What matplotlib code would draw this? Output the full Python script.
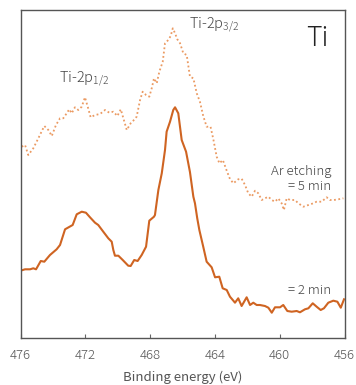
import numpy as np
import matplotlib
matplotlib.use("Agg")
import matplotlib.pyplot as plt

plt.rcParams['font.family'] = ['Noto Sans CJK JP', 'DejaVu Sans']
plt.rcParams['font.weight'] = 'light'
plt.rcParams['mathtext.fontset'] = 'custom'
plt.rcParams['mathtext.rm'] = 'Noto Sans CJK JP:light'

# Ar etching = 2 min (solid)
e_2min = [476.0, 475.72, 475.41, 475.21, 475.04, 474.75, 474.53, 474.18, 473.77, 473.56,
          473.25, 472.78, 472.53, 472.22, 471.96, 471.71, 471.40, 471.20, 470.89, 470.58,
          470.37, 470.27, 470.17, 469.96, 469.69, 469.35, 469.20, 468.98, 468.77, 468.52,
          468.25, 468.05, 467.76, 467.70, 467.49, 467.28, 467.08, 466.98, 466.77, 466.57,
          466.46, 466.26, 466.05, 465.78, 465.54, 465.33, 465.23, 465.09, 464.96, 464.72,
          464.51, 464.20, 463.99, 463.73, 463.52, 463.27, 463.07, 462.86, 462.76, 462.56,
          462.35, 462.04, 461.83, 461.63, 461.42, 461.22, 460.91, 460.70, 460.49, 460.29,
          459.98, 459.78, 459.53, 459.26, 458.95, 458.75, 458.44, 458.23, 457.96, 457.72,
          457.47, 457.27, 457.00, 456.69, 456.44, 456.23, 456.03]
i_2min = [67.3, 68.7, 68.7, 69.7, 68.7, 77, 76.3, 83, 88.7, 93,
          108.7, 113, 123.7, 126.3, 125.3, 120.7, 115.3, 113, 106.3, 99.7,
          96.3, 88, 82.3, 82.3, 78, 72.3, 72, 78, 77, 83,
          91.3, 117.3, 121.3, 123, 148, 164.7, 188, 206.3, 216.3, 228,
          230.7, 224.7, 198, 186.3, 166, 141.3, 134.7, 119.7, 108, 91.3,
          76.3, 70.7, 60.7, 61.3, 49.7, 48, 41.3, 37.3, 35.3, 39.7,
          32, 40.7, 33, 35.3, 33, 33, 32, 30.3, 25.3, 30.7,
          30.7, 33, 27, 26.3, 27, 25.7, 28.7, 29.7, 34.7, 31.3,
          28, 29.7, 35.3, 37.3, 36.3, 30.3, 38.7]

# Ar etching = 5 min (dotted)
e_5min = [475.93, 475.72, 475.52, 475.21, 474.90, 474.53, 474.28, 474.07, 473.81, 473.56,
          473.36, 473.15, 472.99, 472.84, 472.64, 472.43, 472.22, 472.02, 471.85, 471.67,
          471.40, 471.09, 470.78, 470.52, 470.27, 470.02, 469.81, 469.65, 469.44, 469.20,
          469.04, 468.83, 468.62, 468.46, 468.25, 468.05, 467.90, 467.76, 467.59, 467.43,
          467.22, 467.08, 466.88, 466.73, 466.60, 466.46, 466.32, 466.15, 465.95, 465.74,
          465.54, 465.33, 465.12, 464.92, 464.72, 464.51, 464.27, 464.10, 463.89, 463.72,
          463.51, 463.27, 463.07, 462.86, 462.56, 462.35, 462.14, 461.94, 461.73, 461.52,
          461.32, 461.11, 460.91, 460.70, 460.49, 460.29, 460.09, 459.88, 459.74, 459.57,
          459.36, 459.06, 458.85, 458.54, 458.23, 457.93, 457.72, 457.41, 457.10, 456.90,
          456.65, 456.38, 456.07]
i_5min = [191.3, 193, 183, 189.7, 199.7, 212, 208, 202, 213, 219.7,
          219.7, 224.7, 228.7, 224.7, 230.7, 228, 231.3, 240.7, 231.3, 220.7,
          223, 224, 228, 225.3, 226.3, 222, 228.7, 219.7, 208, 214.7,
          217.3, 221.3, 238, 246.3, 243, 241.3, 249.7, 259.7, 254.7, 266.3,
          276.3, 294.7, 298, 302, 309.7, 304.7, 298.7, 294.7, 284.7, 283,
          261.3, 259.7, 244.7, 236, 222, 211.3, 211.3, 199, 181.3, 174.7,
          178, 167.3, 159, 154.7, 158.7, 159.3, 153, 144.7, 141.3, 147.3,
          144.7, 138, 139.7, 141.3, 138, 136.3, 139.7, 134.7, 128, 139.7,
          138, 138, 134.7, 131.3, 133, 134.7, 136.3, 136.3, 140.7, 138,
          138, 138.7, 139.7]

xticks = [476, 472, 468, 464, 460, 456]

fig = plt.figure(figsize=(3.56, 3.85), dpi=100)
ax = fig.add_axes([20.5 / 356, 47 / 385, 324 / 356, 328 / 385])

ax.plot(e_5min, i_5min, color="#eb9a62", lw=1.3, linestyle=(0, (1, 1.4)))
ax.plot(e_2min, i_2min, color="#cf6422", lw=1.5)

ax.set_xlim(476, 456)
ax.set_ylim(0, 328)
ax.set_xticks(xticks)
ax.set_yticks([])
ax.tick_params(axis="x", direction="in", length=3, color="#666666",
               labelsize=9.5, labelcolor="#555555", pad=8)
for s in ax.spines.values():
    s.set_color("#555555")
    s.set_linewidth(1.0)
ax.set_xlabel("Binding energy (eV)", fontsize=9.5, color="#555555", labelpad=6)

tc = "#444444"
ax.text(457.0, 300, "Ti", fontsize=19, color="#222222", ha="right", va="center")
ax.text(465.6, 313, "Ti-2p$_{3/2}$", fontsize=10.5, color=tc, ha="left", va="center")
ax.text(473.6, 259, "Ti-2p$_{1/2}$", fontsize=10.5, color=tc, ha="left", va="center")
ax.text(456.8, 166, "Ar etching", fontsize=9.5, color=tc, ha="right", va="center")
ax.text(456.8, 151, "= 5 min", fontsize=9.5, color=tc, ha="right", va="center")
ax.text(456.8, 47, "= 2 min", fontsize=9.5, color=tc, ha="right", va="center")

fig.savefig("out.png", dpi=100)
